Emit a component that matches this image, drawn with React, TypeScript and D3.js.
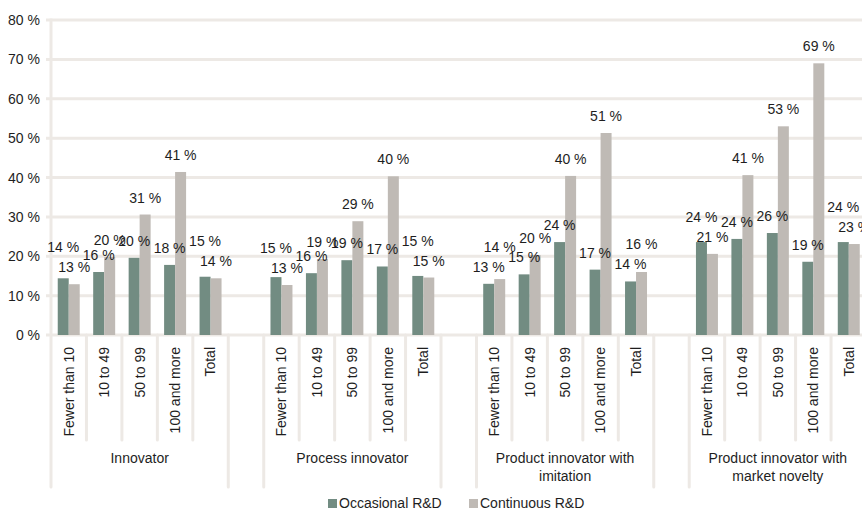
import React from "react";
import * as d3 from "d3";

const groups = ["Innovator", "Process innovator", "Product innovator with|imitation", "Product innovator with|market novelty"];
const sizeClasses = ["Fewer than 10", "10 to 49", "50 to 99", "100 and more", "Total"];
const seriesNames = ["Occasional R&D", "Continuous R&D"];
const yTicks = [0, 10, 20, 30, 40, 50, 60, 70, 80];

// values in %, per group, per size class
const occasional = [
  [14.4, 16.0, 19.6, 17.8, 14.8],
  [14.7, 15.7, 19.0, 17.4, 15.0],
  [13.0, 15.4, 23.6, 16.6, 13.6],
  [23.6, 24.4, 25.9, 18.6, 23.6],
];
const continuous = [
  [12.9, 19.8, 30.6, 41.4, 14.4],
  [12.7, 19.3, 28.9, 40.3, 14.6],
  [14.2, 20.3, 40.4, 51.3, 16.0],
  [20.6, 40.6, 53.0, 69.0, 23.1],
];

const W = 862;
const H = 509;
const FONT = "'Liberation Sans', Arial, Helvetica, sans-serif";
const COL_OCC = "#728c82";
const COL_CONT = "#bfbab5";
const GRID = "#ede9e5";
const TXT = "#1e1e1e";

type Slot = { key: string; g: number; c: number };

export default function App() {
  // build slot list: 5 classes per group, blank slot between groups
  const slots: Slot[] = [];
  groups.forEach((_, g) => {
    sizeClasses.forEach((_, c) => slots.push({ key: `${g}-${c}`, g, c }));
    if (g < groups.length - 1) slots.push({ key: `gap-${g}`, g: -1, c: -1 });
  });

  const x = d3.scaleBand<string>().domain(slots.map((s) => s.key)).range([51, 866.5]).padding(0);
  const bw = x.bandwidth();
  const xs = d3.scaleBand<string>().domain(seriesNames).range([0, bw * 0.62]).padding(0);
  const y = d3.scaleLinear().domain([0, 80]).range([335, 20]);

  const axisY = 335;
  const shortEnd = 440;
  const longEnd = 487;

  // boundaries
  const boundaries: { x: number; long: boolean }[] = [];
  slots.forEach((s, i) => {
    const x0 = x(s.key)!;
    const prev = slots[i - 1];
    const long = i === 0 || s.g === -1 || (prev && prev.g === -1);
    boundaries.push({ x: x0, long });
  });
  boundaries.push({ x: x(slots[slots.length - 1].key)! + bw, long: true });

  const bars: JSX.Element[] = [];
  const labels: JSX.Element[] = [];
  slots.forEach((s) => {
    if (s.g < 0) return;
    const x0 = x(s.key)! + (bw - bw * 0.62) / 2;
    const vals = [occasional[s.g][s.c], continuous[s.g][s.c]];
    const cols = [COL_OCC, COL_CONT];
    const ly = vals.map((v) => y(v) - 12);
    if (Math.abs(ly[0] - ly[1]) < 14) {
      if (vals[0] >= vals[1]) ly[0] = ly[1] - 20;
      else ly[1] = ly[0] - 20;
    }
    seriesNames.forEach((sn, k) => {
      const bx = x0 + xs(sn)!;
      bars.push(
        <rect key={`${s.key}-${k}`} x={bx} y={y(vals[k])} width={xs.bandwidth()} height={y(0) - y(vals[k])} fill={cols[k]} />
      );
      labels.push(
        <text key={`l-${s.key}-${k}`} x={bx + xs.bandwidth() / 2} y={ly[k]} textAnchor="middle" fontSize={14} fill={TXT}>
          {`${Math.round(vals[k])} %`}
        </text>
      );
    });
  });

  return (
    <svg width={W} height={H} style={{ position: "absolute", left: 0, top: 0, background: "#fff" }} fontFamily={FONT}>
      {/* gridlines + ticks */}
      {yTicks.map((t) => (
        <g key={t}>
          <line x1={46} x2={W + 10} y1={y(t)} y2={y(t)} stroke={GRID} strokeWidth={3} />
          <text x={40} y={y(t) + 5} textAnchor="end" fontSize={14} fill={TXT}>{`${t} %`}</text>
        </g>
      ))}
      {/* y axis line */}
      <line x1={51} x2={51} y1={y(80) - 1.5} y2={axisY} stroke={GRID} strokeWidth={3} />
      {/* category separators */}
      {boundaries.map((b, i) => (
        <line key={i} x1={b.x} x2={b.x} y1={axisY} y2={b.long ? longEnd : shortEnd} stroke={GRID} strokeWidth={3} strokeLinecap="round" />
      ))}
      {bars}
      {labels}
      {/* category labels */}
      {slots.map((s) =>
        s.g < 0 ? null : (
          <text
            key={`c-${s.key}`}
            transform={`translate(${x(s.key)! + bw / 2},347) rotate(-90)`}
            textAnchor="end"
            dy="0.35em"
            fontSize={14}
            fill={TXT}
          >
            {sizeClasses[s.c]}
          </text>
        )
      )}
      {/* group labels */}
      {groups.map((gname, g) => {
        const first = x(`${g}-0`)!;
        const last = x(`${g}-4`)! + bw;
        const cx = (first + last) / 2;
        const lines = gname.split("|");
        return (
          <text key={`g-${g}`} x={cx} textAnchor="middle" fontSize={14} fill={TXT}>
            {lines.map((ln, i) => (
              <tspan key={i} x={cx} y={463 + i * 18}>
                {ln}
              </tspan>
            ))}
          </text>
        );
      })}
      {/* legend */}
      {seriesNames.map((sn, i) => {
        const lx = i === 0 ? 328 : 469;
        return (
          <g key={sn}>
            <rect x={lx} y={499} width={9} height={9} fill={i === 0 ? COL_OCC : COL_CONT} />
            <text x={lx + 11} y={508} fontSize={14} fill={TXT}>{sn}</text>
          </g>
        );
      })}
    </svg>
  );
}
